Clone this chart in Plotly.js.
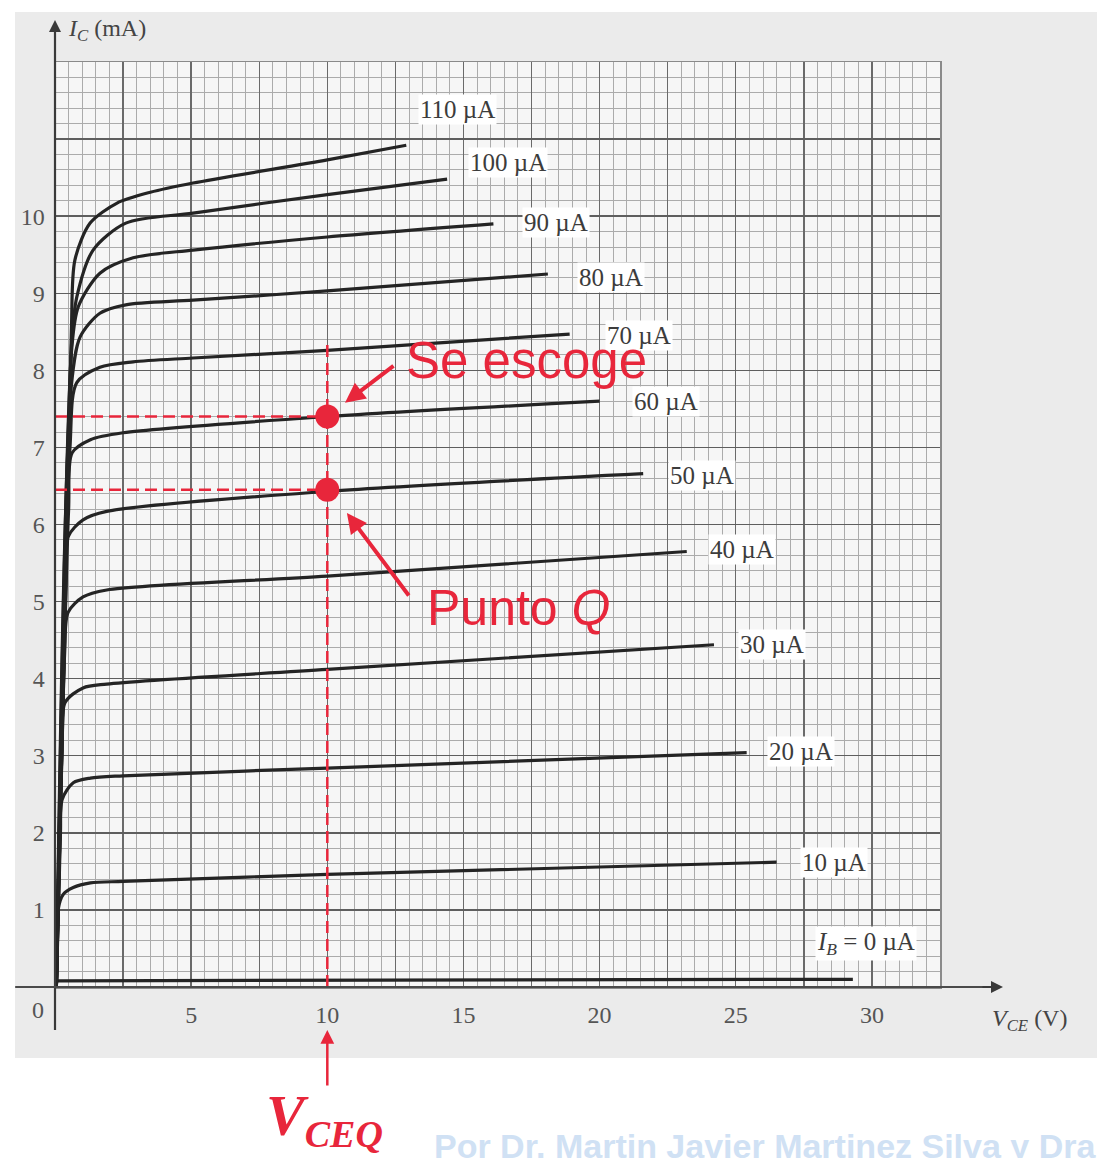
<!DOCTYPE html>
<html><head><meta charset="utf-8">
<script src="https://cdn.plot.ly/plotly-3.0.1.min.js"></script>
<style>
html,body{margin:0;padding:0;background:#fff;overflow:hidden;}
#bg{position:absolute;left:15px;top:12px;width:1082px;height:1046px;background:#ebebeb;}
#chart{position:absolute;left:0;top:0;width:1097px;height:1158px;}
</style></head><body>
<div id="bg"></div><div id="chart"></div>
<script>
// ---- data ----
const baseCurrentsUA = [0, 10, 20, 30, 40, 50, 60, 70, 80, 90, 100, 110];

const vce_0   = [0.1, 29.3];
const ic_0    = [0.08, 0.1];
const vce_10  = [0.05, 0.11, 0.3, 0.67, 1.3, 2.5, 10, 26.5];
const ic_10   = [0, 1.0, 1.2, 1.29, 1.35, 1.37, 1.46, 1.62];
const vce_20  = [0.05, 0.2, 0.26, 0.67, 1.3, 2.5, 10, 25.4];
const ic_20   = [0, 2.0, 2.43, 2.65, 2.71, 2.74, 2.84, 3.04];
const vce_30  = [0.05, 0.25, 0.37, 1.03, 1.9, 10, 24.2];
const ic_30   = [0, 3.0, 3.69, 3.88, 3.93, 4.12, 4.44];
const vce_40  = [0.05, 0.35, 0.48, 1.03, 1.9, 10, 23.2];
const ic_40   = [0, 4.3, 4.86, 5.06, 5.15, 5.33, 5.65];
const vce_50  = [0.05, 0.4, 0.48, 1.03, 1.9, 10, 21.6];
const ic_50   = [0, 5.2, 5.84, 6.06, 6.17, 6.43, 6.66];
const vce_60  = [0.05, 0.5, 0.63, 1.3, 2.5, 10, 20];
const ic_60   = [0, 6.2, 6.93, 7.1, 7.19, 7.4, 7.6];
const vce_70  = [0.05, 0.55, 0.8, 1.65, 2.87, 5.07, 10, 18.9];
const ic_70   = [0, 7.0, 7.84, 8.04, 8.11, 8.16, 8.26, 8.47];
const vce_80  = [0.05, 0.6, 0.92, 1.65, 2.6, 5.07, 10, 18.1];
const ic_80   = [0, 7.8, 8.43, 8.74, 8.85, 8.91, 9.03, 9.25];
const vce_90  = [0.05, 0.62, 0.85, 1.65, 2.87, 5.07, 10, 16.1];
const ic_90   = [0, 8.3, 8.82, 9.26, 9.46, 9.56, 9.73, 9.9];
const vce_100 = [0.05, 0.62, 0.8, 1.4, 2.6, 5.07, 10, 14.4];
const ic_100  = [0, 8.4, 8.95, 9.56, 9.91, 10.04, 10.28, 10.48];
const vce_110 = [0.05, 0.6, 0.73, 1.29, 2.28, 3.5, 5.07, 10, 12.9];
const ic_110  = [0, 8.5, 9.43, 9.91, 10.17, 10.31, 10.43, 10.73, 10.92];

// operating points (upper: "Se escoge", lower: "Punto Q")
const qVce = [10, 10];
const qIc  = [7.4, 6.45];
const vceqLineTop = 8.4;

// tick labels
const xTickVals = [0, 2.5, 5, 7.5, 10, 12.5, 15, 17.5, 20, 22.5, 25, 27.5, 30, 32.5];
const xTickText = ['', '', '5', '', '10', '', '15', '', '20', '', '25', '', '30', ''];
const yTickVals = [0, 1, 2, 3, 4, 5, 6, 7, 8, 9, 10, 11, 12];
const yTickText = ['', '1', '2', '3', '4', '5', '6', '7', '8', '9', '10', '', ''];

// ---- presentation ----
const vceCurves = [vce_0, vce_10, vce_20, vce_30, vce_40, vce_50, vce_60, vce_70, vce_80, vce_90, vce_100, vce_110];
const icCurves  = [ic_0, ic_10, ic_20, ic_30, ic_40, ic_50, ic_60, ic_70, ic_80, ic_90, ic_100, ic_110];
const labelAnchor = [[27.9,0.56],[27.36,1.62],[26.15,3.05],[25.08,4.44],[23.98,5.68],[22.51,6.64],
                     [21.19,7.6],[20.2,8.45],[19.17,9.2],[17.15,9.92],[15.17,10.69],[13.33,11.38]];

const RED = '#e8263b';
const CURVE = '#242424';
const serif = 'Liberation Serif, Times New Roman, serif';
const sans = 'Liberation Sans, Arial, sans-serif';

const traces = [];
vceCurves.forEach((v, i) => {
  traces.push({x: v, y: icCurves[i], mode: 'lines', hoverinfo: 'skip',
    line: {color: CURVE, width: 3.2, shape: i === 0 ? 'linear' : 'spline', smoothing: 0.8}});
});
qIc.forEach((q, k) => {
  traces.push({x: [0, qVce[k]], y: [q, q], mode: 'lines', hoverinfo: 'skip',
    line: {color: RED, width: 2.5, dash: '12px,6px'}});
});
traces.push({x: [qVce[0], qVce[0]], y: [0, vceqLineTop], mode: 'lines', hoverinfo: 'skip',
  line: {color: RED, width: 2.5, dash: '12px,6px'}});
traces.push({x: qVce, y: qIc, mode: 'markers', hoverinfo: 'skip',
  marker: {size: 24, color: RED}});

const annotations = [];
baseCurrentsUA.forEach((ib, i) => {
  const txt = i === 0 ? '<i>I</i><sub><i>B</i></sub> = ' + ib + ' µA' : ib + ' µA';
  annotations.push({x: labelAnchor[i][0], y: labelAnchor[i][1], xref: 'x', yref: 'y',
    text: txt, showarrow: false, xanchor: 'left', yanchor: 'middle',
    bgcolor: '#ffffff', borderpad: 1,
    font: {family: serif, size: 25, color: '#3c3c3c'}});
});
// axis titles & origin label
annotations.push({xref: 'paper', yref: 'paper', x: 0.0124, y: 1.0346, xanchor: 'left', yanchor: 'middle',
  text: '<i>I</i><sub><i>C</i></sub> (mA)', showarrow: false, font: {family: serif, size: 24, color: '#444'}});
annotations.push({xref: 'paper', yref: 'paper', x: 1.0565, y: -0.0357, xanchor: 'left', yanchor: 'middle',
  text: '<i>V</i><sub><i>CE</i></sub> (V)', showarrow: false, font: {family: serif, size: 24, color: '#444'}});
annotations.push({xref: 'paper', yref: 'paper', x: -0.0192, y: -0.0249, xanchor: 'center', yanchor: 'middle',
  text: '0', showarrow: false, font: {family: serif, size: 24, color: '#555'}});
// axis arrowheads
annotations.push({xref: 'paper', yref: 'paper', x: 0, y: 1.0454, ax: 0, ay: 22, text: '', showarrow: true,
  arrowhead: 2, arrowsize: 1.2, arrowwidth: 2, arrowcolor: '#3a3a3a'});
annotations.push({xref: 'paper', yref: 'paper', x: 1.0712, y: 0, ax: -22, ay: 0, text: '', showarrow: true,
  arrowhead: 2, arrowsize: 1.2, arrowwidth: 2, arrowcolor: '#3a3a3a'});
// red annotations
annotations.push({xref: 'x', yref: 'y', x: 12.8, y: 8.13, xanchor: 'left', yanchor: 'middle',
  text: 'Se escoge', showarrow: false, font: {family: sans, size: 51, color: RED}});
annotations.push({xref: 'x', yref: 'y', x: 10.65, y: 7.58, ax: 50, ay: -38, text: '', showarrow: true,
  arrowhead: 2, arrowsize: 1, arrowwidth: 4, arrowcolor: RED});
annotations.push({xref: 'x', yref: 'y', x: 13.59, y: 4.92, xanchor: 'left', yanchor: 'middle',
  text: 'Punto <i>Q</i>', showarrow: false, font: {family: sans, size: 50, color: RED}});
annotations.push({xref: 'x', yref: 'y', x: 10.72, y: 6.15, ax: 63, ay: 84, text: '', showarrow: true,
  arrowhead: 2, arrowsize: 1, arrowwidth: 4, arrowcolor: RED});
annotations.push({xref: 'x', yref: 'paper', x: qVce[0], y: -0.0465, ax: 0, ay: 57, text: '', showarrow: true,
  arrowhead: 2, arrowsize: 1.1, arrowwidth: 2.5, arrowcolor: RED});
annotations.push({xref: 'x', yref: 'paper', x: qVce[0] - 0.1, y: -0.143, xanchor: 'center', yanchor: 'middle',
  text: '<b><i>V<sub><span style="font-size:38px">CEQ</span></sub></i></b>', showarrow: false,
  font: {family: serif, size: 58, color: RED}});
// watermark
annotations.push({xref: 'paper', yref: 'paper', x: 0.426, y: -0.172, xanchor: 'left', yanchor: 'middle',
  text: '<b>Por Dr. Martin Javier Martinez Silva y Dra</b>', showarrow: false,
  font: {family: sans, size: 34, color: '#d0e1f4'}});

const shapes = [
  {type: 'line', xref: 'paper', yref: 'paper', x0: 0, x1: 0, y0: -0.0465, y1: 1.04,
   line: {color: '#3a3a3a', width: 2.2}},
  {type: 'line', xref: 'paper', yref: 'paper', x0: -0.045, x1: 1.06, y0: 0, y1: 0,
   line: {color: '#4a4a4a', width: 2.2}}
];

const layout = {
  width: 1097, height: 1158,
  margin: {l: 55, r: 157, t: 62, b: 171, pad: 0},
  paper_bgcolor: 'rgba(0,0,0,0)', plot_bgcolor: '#f6f6f6',
  showlegend: false,
  xaxis: {range: [0, 32.5], tickmode: 'array', tickvals: xTickVals, ticktext: xTickText,
    showgrid: true, gridcolor: '#6a6a6a', gridwidth: 1.4,
    minor: {tickmode: 'linear', tick0: 0, dtick: 0.5, showgrid: true, gridcolor: '#ababab', gridwidth: 1},
    zeroline: false, showline: true, mirror: true, linecolor: '#8a8a8a', linewidth: 1.5,
    ticks: '', ticklabelstandoff: 6, tickfont: {family: serif, size: 24, color: '#555'}, fixedrange: true},
  yaxis: {range: [0, 12], tickmode: 'array', tickvals: yTickVals, ticktext: yTickText,
    showgrid: true, gridcolor: '#5e5e5e', gridwidth: 1.4,
    minor: {tickmode: 'linear', tick0: 0, dtick: 0.2, showgrid: true, gridcolor: '#ababab', gridwidth: 1},
    zeroline: false, showline: true, mirror: true, linecolor: '#8a8a8a', linewidth: 1.5,
    ticks: '', ticklabelstandoff: 4, tickfont: {family: serif, size: 24, color: '#555'}, fixedrange: true},
  shapes: shapes,
  annotations: annotations
};

Plotly.newPlot('chart', traces, layout, {displayModeBar: false, staticPlot: true});
</script>
</body></html>
